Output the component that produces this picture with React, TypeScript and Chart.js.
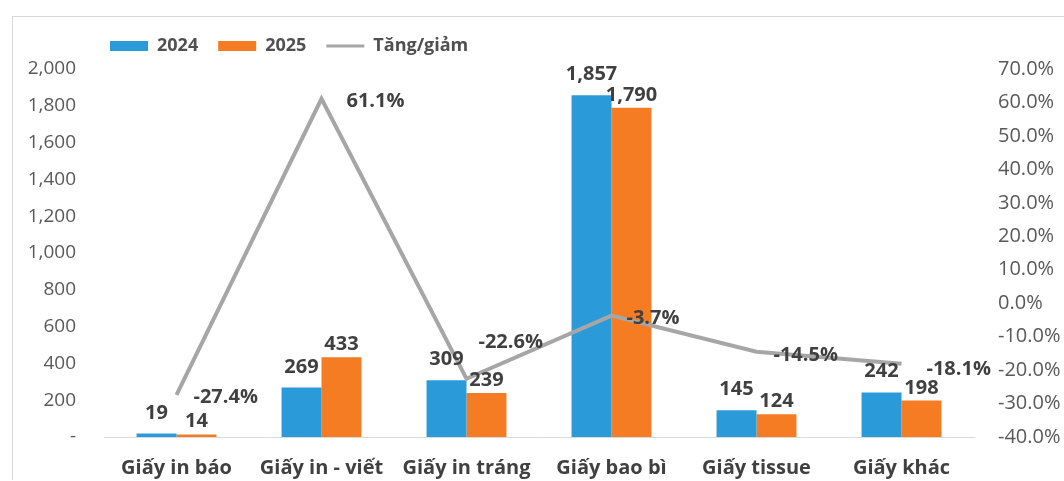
import React, { useEffect, useRef } from 'react';
import { Chart, registerables } from 'chart.js';

Chart.register(...registerables);

const FONT = '"Open Sans", "Noto Sans", sans-serif';

const categories = ['Giấy in báo', 'Giấy in - viết', 'Giấy in tráng', 'Giấy bao bì', 'Giấy tissue', 'Giấy khác'];
const values2024 = [19, 269, 309, 1857, 145, 242];
const values2025 = [14, 433, 239, 1790, 124, 198];
const changes = [-27.4, 61.1, -22.6, -3.7, -14.5, -18.1];
const leftTickValues = [0, 200, 400, 600, 800, 1000, 1200, 1400, 1600, 1800, 2000];
const rightTickValues = [-40, -30, -20, -10, 0, 10, 20, 30, 40, 50, 60, 70];
const seriesNames = ['2024', '2025', 'Tăng/giảm'];

// label nudges for the line's value labels (style only)
const LINE_LABEL_DX = [17, 25, 12, 15, 17, 25];
const LINE_LABEL_DY = [2, 3, -36, 3, 4, 6];

const BLUE = '#2B9AD8';
const ORANGE = '#F57C22';
const GRAY = '#A6A6A6';
const LABEL_COLOR = '#404040';

const legendTweak = {
  id: 'legendTweak',
  beforeLayout(chart: any) {
    const lg = chart.legend;
    if (lg && !lg.__wrapped) {
      const orig = lg.fit.bind(lg);
      lg.fit = function () {
        orig();
        this.height = 52;
      };
      lg.__wrapped = true;
    }
  },
  afterLayout(chart: any) {
    const lg = chart.legend;
    if (lg) {
      const dx = 110 - 13 - 20 - lg.left;
      lg.left += dx;
      lg.right += dx;
    }
  },
};

const valueLabels = {
  id: 'valueLabels',
  afterDatasetsDraw(chart: any) {
    const { ctx } = chart;
    ctx.save();
    ctx.font = `bold 20px ${FONT}`;
    ctx.fillStyle = LABEL_COLOR;
    [0, 1].forEach((di) => {
      const meta = chart.getDatasetMeta(di);
      const gap = di === 0 ? 15 : 7;
      meta.data.forEach((el: any, i: number) => {
        const v = chart.data.datasets[di].data[i] as number;
        ctx.textAlign = 'center';
        ctx.textBaseline = 'alphabetic';
        ctx.fillText(v.toLocaleString('en-US'), el.x, el.y - gap);
      });
    });
    const lm = chart.getDatasetMeta(2);
    lm.data.forEach((el: any, i: number) => {
      const v = chart.data.datasets[2].data[i] as number;
      ctx.textAlign = 'left';
      ctx.textBaseline = 'middle';
      ctx.fillText(v.toFixed(1) + '%', el.x + LINE_LABEL_DX[i], el.y + LINE_LABEL_DY[i]);
    });
    ctx.restore();
  },
};

const fitVertical = (width: number) => (s: any) => {
  s.width = width;
  s.paddingTop = 8;
  s.paddingBottom = 8;
};

export default function App() {
  const ref = useRef<HTMLCanvasElement | null>(null);

  useEffect(() => {
    if (!ref.current) return;
    Chart.defaults.font.family = FONT;
    const chart = new Chart(ref.current, {
      type: 'bar',
      data: {
        labels: categories,
        datasets: [
          {
            type: 'bar',
            label: seriesNames[0],
            data: values2024,
            backgroundColor: BLUE,
            borderWidth: 0,
            yAxisID: 'y',
            barPercentage: 1,
            categoryPercentage: 0.551,
            order: 0,
          },
          {
            type: 'bar',
            label: seriesNames[1],
            data: values2025,
            backgroundColor: ORANGE,
            borderWidth: 0,
            yAxisID: 'y',
            barPercentage: 1,
            categoryPercentage: 0.551,
            order: 0,
          },
          {
            type: 'line',
            label: seriesNames[2],
            data: changes,
            borderColor: GRAY,
            backgroundColor: GRAY,
            borderWidth: 4,
            pointRadius: 0,
            tension: 0,
            yAxisID: 'y1',
            order: -1,
          } as any,
        ],
      },
      options: {
        responsive: false,
        animation: false,
        layout: { padding: 0 },
        plugins: {
          legend: {
            position: 'top',
            align: 'start',
            fullSize: false,
            labels: {
              usePointStyle: true,
              pointStyleWidth: 38,
              boxHeight: 10,
              padding: 20,
              color: '#505050',
              font: { size: 18, weight: 'bold', family: FONT },
              sort: (a: any, b: any) => a.datasetIndex - b.datasetIndex,
              generateLabels: (c: any) => {
                const items = (Chart.defaults.plugins.legend.labels as any).generateLabels(c);
                return items.map((it: any) => ({
                  ...it,
                  pointStyle: it.datasetIndex === 2 ? 'line' : 'rect',
                  lineWidth: it.datasetIndex === 2 ? 3 : 0,
                }));
              },
            },
          },
          tooltip: { enabled: false },
        },
        scales: {
          x: {
            grid: { display: false, drawTicks: false },
            border: { color: '#D9D9D9', width: 1 },
            ticks: {
              color: LABEL_COLOR,
              font: { size: 20, weight: 'bold' },
              padding: 19,
              maxRotation: 0,
              autoSkip: false,
            },
            afterFit: (s: any) => {
              s.height = 43;
            },
          },
          y: {
            position: 'left',
            min: 0,
            max: 2000,
            grid: { display: false, drawTicks: false },
            border: { display: false },
            ticks: {
              color: '#595959',
              font: { size: 19 },
              padding: 28,
              callback: (v: any) => (Number(v) === 0 ? '-' : Number(v).toLocaleString('en-US')),
            },
            afterBuildTicks: (s: any) => {
              s.ticks = leftTickValues.map((v) => ({ value: v }));
            },
            afterFit: fitVertical(91),
          },
          y1: {
            position: 'right',
            min: -40,
            max: 70,
            grid: { display: false, drawTicks: false },
            border: { display: false },
            ticks: {
              color: '#595959',
              font: { size: 20 },
              padding: 24,
              callback: (v: any) => Number(v).toFixed(1) + '%',
            },
            afterBuildTicks: (s: any) => {
              s.ticks = rightTickValues.map((v) => ({ value: v }));
            },
            afterFit: fitVertical(90),
          },
        },
      } as any,
      plugins: [legendTweak, valueLabels],
    });
    return () => chart.destroy();
  }, []);

  return (
    <div
      style={{
        position: 'absolute',
        left: 12,
        top: 16,
        width: 1051,
        height: 463,
        borderTop: '1px solid #D9D9D9',
        borderLeft: '1px solid #D9D9D9',
        background: '#fff',
      }}
    >
      <canvas ref={ref} width={1051} height={463} style={{ display: 'block' }} />
    </div>
  );
}
